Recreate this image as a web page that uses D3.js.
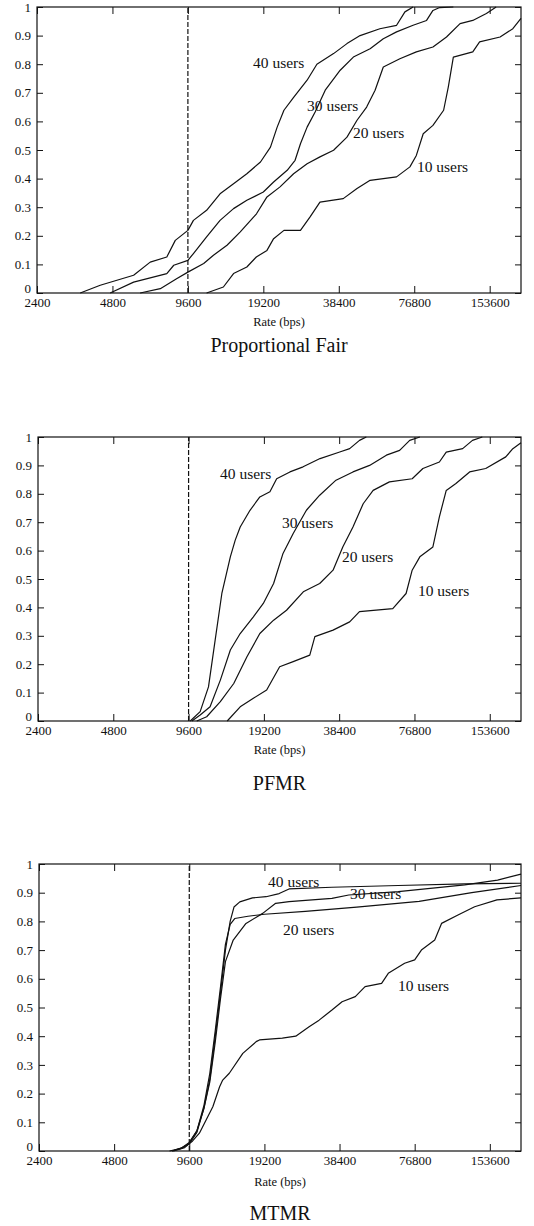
<!DOCTYPE html>
<html>
<head>
<meta charset="utf-8">
<script src="https://cdn.jsdelivr.net/npm/d3@7"></script>
<style>
  html, body { margin: 0; padding: 0; background: #fff; }
  svg { display: block; }
  text { font-family: "Liberation Serif", "Times New Roman", serif; fill: #111; }
</style>
</head>
<body>
<svg id="chart" width="534" height="1226"></svg>
<script>
// Axis ticks shared by all three panels
const rateTicks = [2400, 4800, 9600, 19200, 38400, 76800, 153600];
const cdfTicks = [0, 0.1, 0.2, 0.3, 0.4, 0.5, 0.6, 0.7, 0.8, 0.9, 1];
const rateDomain = [2400, 204800];
const minRate = 9600;
const userCounts = [40, 30, 20, 10];

// Proportional Fair: CDF of user rate, [rate (bps), cumulative fraction]
const pf40 = [[3570,0],[4290,0.027],[5830,0.062],[6790,0.108],[7910,0.126],[8550,0.184],[9600,0.219],[10100,0.254],[11400,0.289],[12900,0.347],[14600,0.382],[16500,0.417],[18700,0.458],[20500,0.51],[21800,0.58],[23200,0.639],[25400,0.685],[28700,0.744],[31400,0.80],[36600,0.837],[41400,0.872],[46700,0.90],[56000,0.924],[65300,0.936],[70500,0.983],[76000,1]];
const pf30 = [[4700,0],[5830,0.038],[7910,0.068],[8430,0.097],[9600,0.114],[10100,0.138],[11400,0.196],[12900,0.254],[14600,0.295],[16500,0.324],[19200,0.353],[21100,0.388],[23900,0.429],[25700,0.464],[27000,0.522],[28700,0.58],[30900,0.633],[33900,0.709],[38900,0.779],[43900,0.825],[51200,0.854],[57800,0.889],[65300,0.913],[76000,0.936],[86000,0.953],[91200,0.988],[97000,0.998],[110000,1]];
const pf20 = [[6190,0],[7450,0.015],[8650,0.05],[9600,0.073],[11100,0.103],[12140,0.132],[13750,0.167],[15500,0.213],[18030,0.277],[19850,0.336],[22380,0.371],[25350,0.417],[28700,0.452],[32300,0.476],[36600,0.499],[41400,0.545],[45400,0.604],[49600,0.65],[53600,0.709],[57800,0.79],[67300,0.819],[78300,0.843],[91200,0.86],[103300,0.895],[117000,0.942],[131500,0.953],[149000,0.977],[163000,1]];
const pf10 = [[11400,0],[13300,0.021],[14600,0.068],[16500,0.091],[18000,0.126],[19850,0.149],[21100,0.19],[23200,0.219],[27000,0.219],[29500,0.266],[32300,0.318],[40000,0.33],[45400,0.365],[51200,0.394],[65300,0.406],[73800,0.441],[78300,0.481],[83400,0.557],[91200,0.586],[100600,0.639],[105000,0.72],[110000,0.825],[131500,0.843],[140000,0.878],[169000,0.895],[190000,0.924],[204800,0.96]];

// PFMR
const pfmr40 = [[9750,0],[10680,0.033],[11530,0.12],[12260,0.285],[13040,0.449],[14100,0.578],[14750,0.637],[15440,0.683],[16900,0.742],[18500,0.789],[20300,0.807],[21600,0.853],[24400,0.877],[27550,0.895],[32200,0.924],[38600,0.947],[42300,0.959],[46300,0.988],[49300,1]];
const pfmr30 = [[9900,0],[10680,0.021],[11700,0.05],[12860,0.144],[14100,0.25],[15440,0.308],[17430,0.367],[19100,0.414],[21000,0.484],[22900,0.59],[25150,0.66],[28400,0.742],[32100,0.795],[37300,0.848],[43600,0.877],[50800,0.9],[59300,0.936],[67000,0.953],[73500,0.988],[80700,1]];
const pfmr20 = [[10350,0],[11340,0.015],[12860,0.068],[14550,0.132],[16430,0.226],[18500,0.308],[21000,0.355],[23650,0.39],[27600,0.455],[32100,0.484],[36300,0.531],[39700,0.613],[43600,0.683],[47900,0.765],[52500,0.812],[61000,0.842],[75200,0.853],[83000,0.889],[96600,0.912],[102900,0.947],[119700,0.959],[131000,0.988],[143400,1]];
const pfmr10 = [[13700,0],[15440,0.05],[17430,0.08],[19700,0.109],[22200,0.191],[25150,0.209],[29300,0.232],[30700,0.297],[36300,0.32],[42300,0.349],[46300,0.385],[62900,0.396],[71100,0.449],[75200,0.531],[80700,0.578],[91000,0.613],[96600,0.719],[102900,0.812],[112500,0.836],[127600,0.877],[148000,0.889],[178000,0.93],[190000,0.959],[204800,0.98]];

// MTMR
const mtmr40 = [[8000,0],[8800,0.008],[9600,0.025],[10300,0.065],[11000,0.15],[11600,0.25],[12200,0.4],[12800,0.55],[13400,0.7],[14000,0.8],[14500,0.85],[15300,0.868],[17200,0.882],[19500,0.886],[22000,0.897],[24100,0.913],[35800,0.919],[66000,0.925],[122000,0.931],[204800,0.933]];
const mtmr30 = [[8200,0],[9000,0.01],[9600,0.028],[10300,0.07],[11000,0.15],[11600,0.24],[12200,0.38],[12800,0.53],[13400,0.66],[14400,0.735],[16200,0.793],[18900,0.828],[21300,0.863],[24100,0.869],[35800,0.88],[41800,0.892],[66000,0.904],[121800,0.927],[165000,0.944],[204800,0.965]];
const mtmr20 = [[8200,0],[9000,0.012],[9600,0.03],[10300,0.07],[11000,0.16],[11600,0.27],[12200,0.42],[12800,0.57],[13400,0.72],[14000,0.79],[14600,0.81],[16500,0.818],[19200,0.825],[28000,0.835],[45000,0.85],[80000,0.87],[130000,0.9],[204800,0.925]];
const mtmr10 = [[8300,0],[9200,0.012],[9900,0.035],[10540,0.062],[11930,0.154],[12700,0.224],[13070,0.247],[13890,0.271],[15730,0.34],[17800,0.381],[18340,0.387],[22650,0.393],[25640,0.4],[29000,0.433],[31800,0.456],[35800,0.491],[39300,0.52],[44400,0.538],[48600,0.573],[56600,0.584],[60200,0.619],[70000,0.654],[76800,0.666],[81700,0.70],[92400,0.735],[98400,0.793],[114500,0.822],[133500,0.851],[164000,0.875],[204800,0.882]];

// Curve label anchors [rate, cdf], same order as userCounts
const pfLabels = [[17460,0.787],[28680,0.636],[43750,0.542],[78700,0.423]];
const pfmrLabels = [[12820,0.852],[22680,0.68],[39400,0.56],[79300,0.44]];
const mtmrLabels = [[19850,0.92],[42300,0.878],[22800,0.753],[65800,0.557]];

const panelTitles = ["Proportional Fair", "PFMR", "MTMR"];
const axisTitle = "Rate (bps)";

const panels = [
  { title: panelTitles[0], series: [pf40, pf30, pf20, pf10], labels: pfLabels,
    box: { left: 37, right: 521, top: 7, bottom: 293 }, xTitleY: 326, titleY: 352 },
  { title: panelTitles[1], series: [pfmr40, pfmr30, pfmr20, pfmr10], labels: pfmrLabels,
    box: { left: 38, right: 521, top: 437, bottom: 721 }, xTitleY: 754, titleY: 790 },
  { title: panelTitles[2], series: [mtmr40, mtmr30, mtmr20, mtmr10], labels: mtmrLabels,
    box: { left: 39, right: 521, top: 864, bottom: 1151 }, xTitleY: 1186, titleY: 1220 }
];

const svg = d3.select("#chart");
const ink = "#111";
const serif = '"Liberation Serif", "Times New Roman", serif';

panels.forEach(p => {
  const b = p.box;
  const x = d3.scaleLog().base(2).domain(rateDomain).range([b.left, b.right]);
  const y = d3.scaleLinear().domain([0, 1]).range([b.bottom, b.top]);
  const g = svg.append("g");

  // Frame
  g.append("rect")
    .attr("x", b.left).attr("y", b.top)
    .attr("width", b.right - b.left).attr("height", b.bottom - b.top)
    .attr("fill", "none").attr("stroke", ink).attr("stroke-width", 1.2);

  // Bottom axis with inward ticks, labels below
  const xAxis = g.append("g").attr("transform", `translate(0,${b.bottom})`)
    .call(d3.axisBottom(x).tickValues(rateTicks).tickFormat(d3.format("d"))
      .tickSizeInner(-7).tickSizeOuter(0).tickPadding(5));
  xAxis.select(".domain").remove();
  xAxis.selectAll("line").attr("stroke", ink);
  xAxis.selectAll("text").attr("font-size", 13).style("font-family", serif).attr("fill", ink);

  // Top ticks
  const xTop = g.append("g").attr("transform", `translate(0,${b.top})`)
    .call(d3.axisTop(x).tickValues(rateTicks).tickFormat("").tickSizeInner(-7).tickSizeOuter(0));
  xTop.select(".domain").remove();
  xTop.selectAll("line").attr("stroke", ink);

  // Left axis with inward ticks; the "0" sits a little high so it clears the rate labels
  const yAxis = g.append("g").attr("transform", `translate(${b.left},0)`)
    .call(d3.axisLeft(y).tickValues(cdfTicks).tickFormat(d => d3.format("")(d))
      .tickSizeInner(-6).tickSizeOuter(0).tickPadding(6));
  yAxis.select(".domain").remove();
  yAxis.selectAll("line").attr("stroke", ink);
  yAxis.selectAll("text").attr("font-size", 13).style("font-family", serif).attr("fill", ink);
  yAxis.selectAll(".tick").filter(d => d === 0).select("text").attr("dy", "-0.02em");

  // Right ticks
  const yRight = g.append("g").attr("transform", `translate(${b.right},0)`)
    .call(d3.axisRight(y).tickValues(cdfTicks).tickFormat("").tickSizeInner(-6).tickSizeOuter(0));
  yRight.select(".domain").remove();
  yRight.selectAll("line").attr("stroke", ink);

  // Minimum-rate marker
  g.append("line")
    .attr("x1", x(minRate)).attr("x2", x(minRate))
    .attr("y1", y(0)).attr("y2", y(1))
    .attr("stroke", ink).attr("stroke-width", 1.2).attr("stroke-dasharray", "5,2");

  // CDF curves
  const line = d3.line().x(d => x(d[0])).y(d => y(d[1])).curve(d3.curveLinear);
  p.series.forEach(s => {
    g.append("path").datum(s)
      .attr("d", line)
      .attr("fill", "none").attr("stroke", ink).attr("stroke-width", 1.2)
      .attr("stroke-linejoin", "round");
  });

  // Curve labels
  p.labels.forEach((l, i) => {
    g.append("text")
      .attr("x", x(l[0])).attr("y", y(l[1]))
      .attr("font-size", 15.5)
      .text(`${userCounts[i]} users`);
  });

  // Axis title and panel caption
  g.append("text")
    .attr("x", (b.left + b.right) / 2).attr("y", p.xTitleY)
    .attr("text-anchor", "middle").attr("font-size", 12.5)
    .text(axisTitle);
  g.append("text")
    .attr("x", (b.left + b.right) / 2).attr("y", p.titleY)
    .attr("text-anchor", "middle").attr("font-size", 20)
    .text(p.title);
});
</script>
</body>
</html>
